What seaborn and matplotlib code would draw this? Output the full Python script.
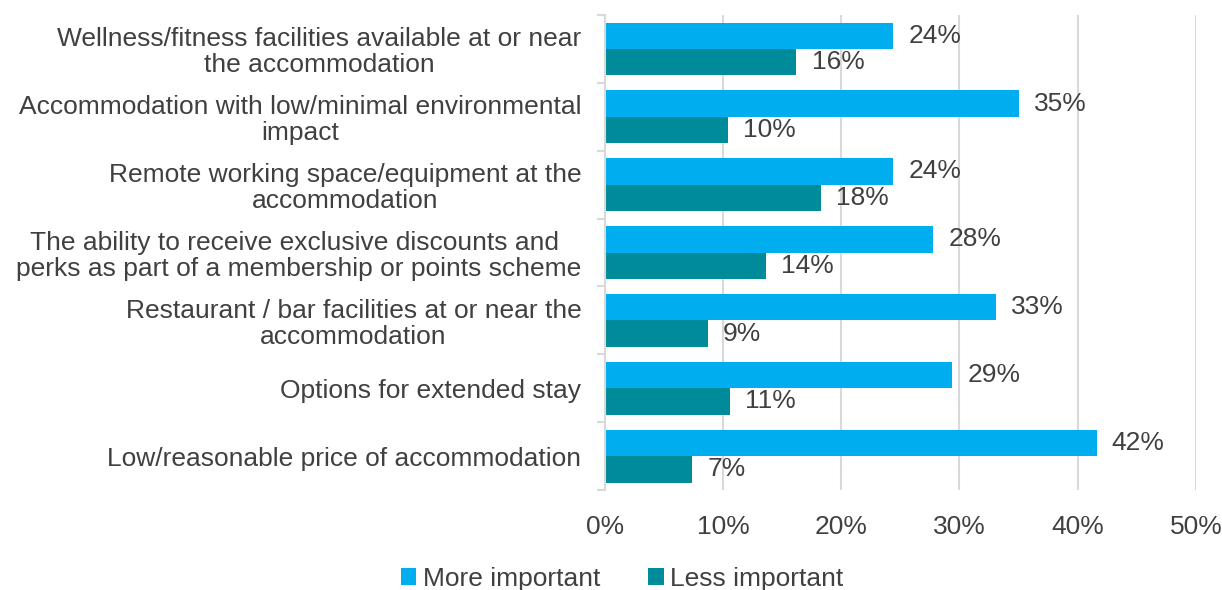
import numpy as np
import pandas as pd
import matplotlib
matplotlib.use("Agg")
import matplotlib.pyplot as plt
import seaborn as sns
from matplotlib.ticker import PercentFormatter

categories = [
    "Wellness/fitness facilities available at or near\nthe accommodation",
    "Accommodation with low/minimal environmental\nimpact",
    "Remote working space/equipment at the\naccommodation",
    "The ability to receive exclusive discounts and \nperks as part of a membership or points scheme",
    "Restaurant / bar facilities at or near the\naccommodation",
    "Options for extended stay",
    "Low/reasonable price of accommodation",
]
more_important = [24.4, 35.0, 24.4, 27.8, 33.1, 29.4, 41.6]
less_important = [16.2, 10.4, 18.3, 13.6, 8.7, 10.6, 7.4]
series_names = ["More important", "Less important"]
x_ticks = [0, 10, 20, 30, 40, 50]

df = pd.DataFrame({
    "category": categories * 2,
    "value": more_important + less_important,
    "series": [series_names[0]] * len(categories) + [series_names[1]] * len(categories),
})

sns.set_theme(style="white")
plt.rcParams["font.family"] = ["Liberation Sans", "DejaVu Sans"]
text_color = "#404040"
fs = 19

fig = plt.figure(figsize=(12.22, 5.90), dpi=100)
ax = fig.add_axes([0.495, 0.1695, 0.4836, 0.805])

sns.barplot(
    data=df, y="category", x="value", hue="series", orient="h",
    palette=["#00AEEF", "#008B9A"], width=0.78, gap=0, ax=ax,
    saturation=1, legend=True, linewidth=0, edgecolor="none",
)

for cont in ax.containers:
    ax.bar_label(cont, labels=[f"{v:.0f}%" for v in cont.datavalues],
                 padding=11, fontsize=fs, color=text_color)

ax.set_xlim(0, 50)
ax.set_xticks(x_ticks)
ax.xaxis.set_major_formatter(PercentFormatter(decimals=0))
ax.set_ylim(len(categories) - 0.5, -0.5)
ax.set_xlabel("")
ax.set_ylabel("")
ax.grid(axis="x", color="#d9d9d9", linewidth=1.5)
ax.set_axisbelow(True)
for side in ["top", "right", "bottom"]:
    ax.spines[side].set_visible(False)
ax.spines["left"].set_color("#d9d9d9")
ax.spines["left"].set_linewidth(1.5)

# minor ticks on category boundaries
ax.set_yticks(np.arange(-0.5, len(categories)), minor=True)
ax.tick_params(axis="y", which="minor", length=6, color="#d9d9d9", width=1.5, left=True)
ax.tick_params(axis="y", which="major", length=0, labelsize=fs, labelcolor=text_color, pad=17)
ax.tick_params(axis="x", length=0, labelsize=fs, labelcolor=text_color, pad=18)
for lbl in ax.get_yticklabels():
    lbl.set_horizontalalignment("right")
    lbl.set_multialignment("center")
    lbl.set_linespacing(1.1)

handles, labels = ax.get_legend_handles_labels()
ax.get_legend().remove()
fig.legend(handles, labels, loc="lower center", bbox_to_anchor=(0.509, -0.042), ncol=2,
           frameon=False, fontsize=fs, handlelength=0.6, handleheight=0.6,
           handletextpad=0.25, columnspacing=1.8, labelcolor=text_color)

fig.savefig("out.png", dpi=100)
